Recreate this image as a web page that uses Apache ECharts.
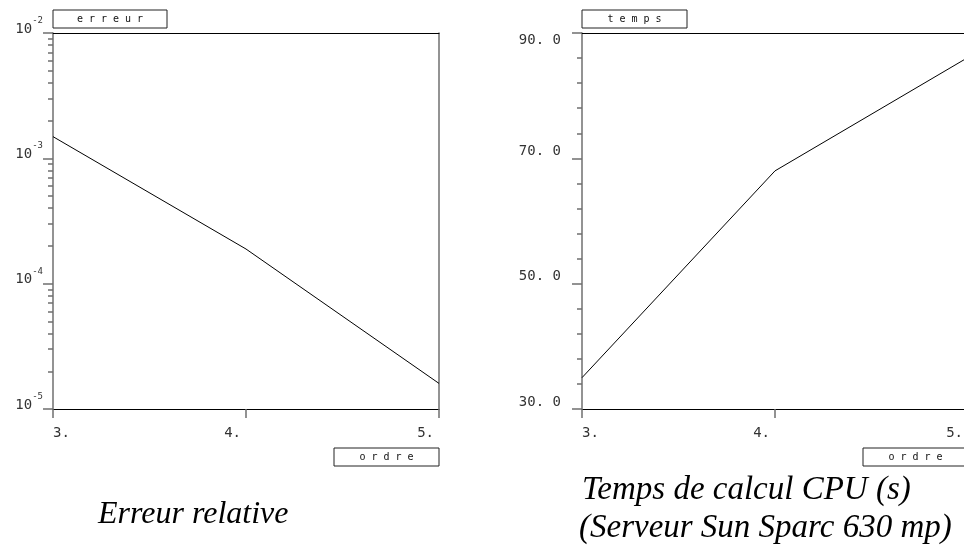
<!DOCTYPE html>
<html>
<head>
<meta charset="utf-8">
<script src="https://cdn.jsdelivr.net/npm/echarts@6/dist/echarts.min.js"></script>
<style>
  html, body { margin: 0; padding: 0; background: #fff; }
  #chart { width: 964px; height: 554px; }
</style>
</head>
<body>
<div id="chart"></div>
<script>
// Polynomial order on the horizontal axis of both panels
const orders = [3, 4, 5];
// Relative error for each order (log scale)
const relError = [1.49e-3, 1.89e-4, 1.60e-5];
// CPU time in seconds for each order
const cpuTime = [35.0, 68.0, 86.1];

// Decades shown on the error axis and the in-between minor tick multipliers
const errorDecades = [1e-5, 1e-4, 1e-3, 1e-2];
const minorMultipliers = [2, 3, 4, 5, 6, 7, 8, 9];
// CPU time axis range and label step
const timeMin = 30, timeMax = 90, timeStep = 20;

const errorMinorTicks = [];
errorDecades.slice(0, -1).forEach(d => minorMultipliers.forEach(m => errorMinorTicks.push(m * d)));

const AXIS_GRAY = '#6f6f6f';
const TICK_FONT = 'DejaVu Sans Mono';
const CAPTION_FONT = 'Liberation Serif';
const captionStyle = { fontFamily: CAPTION_FONT, fontStyle: 'italic', fontWeight: 'normal', fontSize: 33, color: '#000' };

function boxName(text, w) {
  return {
    name: '{box|' + text + '}',
    nameTextStyle: {
      rich: {
        box: {
          width: w, height: 18, align: 'center', verticalAlign: 'middle',
          borderColor: '#222', borderWidth: 1,
          fontFamily: TICK_FONT, fontSize: 10, color: '#111'
        }
      }
    }
  };
}

function bottomAxis(gridIndex, nameText) {
  const nb = boxName(nameText, 105);
  return {
    type: 'value', gridIndex, position: 'bottom',
    min: orders[0], max: orders[orders.length - 1], interval: 1,
    axisLine: { show: true, lineStyle: { color: '#000', width: 1 } },
    axisTick: { show: true, length: 9, inside: false, lineStyle: { color: AXIS_GRAY, width: 1.5 } },
    axisLabel: {
      show: true, margin: 17, align: 'right', alignMinLabel: 'left',
      padding: [0, 5, 0, 0],
      fontFamily: TICK_FONT, fontSize: 14, color: '#333',
      formatter: v => v + '.'
    },
    splitLine: { show: false },
    name: nb.name,
    nameLocation: 'end', nameGap: 0,
    nameTextStyle: Object.assign({ align: 'right', verticalAlign: 'top', padding: [39, 0, 0, 0] }, nb.nameTextStyle)
  };
}

function topAxis(gridIndex) {
  return {
    type: 'value', gridIndex, position: 'top',
    min: orders[0], max: orders[orders.length - 1],
    axisLine: { show: true, lineStyle: { color: '#000', width: 1 } },
    axisTick: { show: false }, axisLabel: { show: false }, splitLine: { show: false }
  };
}

const errName = boxName('e r r e u r', 114);
const timeName = boxName('t e m p s', 105);

const option = {
  animation: false,
  backgroundColor: '#fff',
  title: [
    { text: 'Erreur relative', left: 93, top: 494, textStyle: Object.assign({}, captionStyle, { fontSize: 32 }) },
    { text: 'Temps de calcul CPU (s)', left: 577, top: 469, textStyle: captionStyle },
    { text: '(Serveur Sun Sparc 630 mp)', left: 574, top: 507, textStyle: captionStyle }
  ],
  grid: [
    { left: 53, top: 33, width: 386, height: 376, containLabel: false, outerBoundsMode: 'none' },
    { left: 582, top: 33, width: 386, height: 376, containLabel: false, outerBoundsMode: 'none' }
  ],
  xAxis: [
    bottomAxis(0, 'o r d r e'),
    topAxis(0),
    bottomAxis(1, 'o r d r e'),
    topAxis(1)
  ],
  yAxis: [
    // error axis: decades with labels and long ticks
    {
      type: 'log', logBase: 10, gridIndex: 0, position: 'left',
      min: errorDecades[0], max: errorDecades[errorDecades.length - 1],
      axisLine: { show: true, lineStyle: { color: AXIS_GRAY, width: 1.5 } },
      axisTick: { show: true, length: 10, lineStyle: { color: AXIS_GRAY, width: 1.5 } },
      axisLabel: {
        show: true, margin: 10, verticalAlign: 'bottom',
        formatter: v => '{b|10}{s|' + Math.round(Math.log10(v)) + '}',
        rich: {
          b: { fontFamily: TICK_FONT, fontSize: 14, color: '#333', verticalAlign: 'bottom', lineHeight: 20, padding: [0, 0, -3, 0] },
          s: { fontFamily: TICK_FONT, fontSize: 9, color: '#333', verticalAlign: 'top', padding: [3, 0, 0, 0] }
        }
      },
      splitLine: { show: false },
      name: errName.name, nameLocation: 'end', nameGap: 5,
      nameTextStyle: Object.assign({ align: 'left', verticalAlign: 'bottom' }, errName.nameTextStyle)
    },
    // error axis: minor ticks at 2..9 of each decade
    {
      type: 'log', logBase: 10, gridIndex: 0, position: 'left',
      min: errorDecades[0], max: errorDecades[errorDecades.length - 1],
      axisLine: { show: false },
      axisTick: { show: true, length: 5, customValues: errorMinorTicks, lineStyle: { color: AXIS_GRAY, width: 1.5 } },
      axisLabel: { show: false },
      splitLine: { show: false }
    },
    // right border of the error panel
    {
      type: 'log', logBase: 10, gridIndex: 0, position: 'right',
      min: errorDecades[0], max: errorDecades[errorDecades.length - 1],
      axisLine: { show: true, lineStyle: { color: AXIS_GRAY, width: 1.5 } },
      axisTick: { show: false }, axisLabel: { show: false }, splitLine: { show: false }
    },
    // CPU time axis
    {
      type: 'value', gridIndex: 1, position: 'left',
      min: timeMin, max: timeMax, interval: timeStep,
      axisLine: { show: true, lineStyle: { color: AXIS_GRAY, width: 1.5 } },
      axisTick: { show: true, length: 10, lineStyle: { color: AXIS_GRAY, width: 1.5 } },
      minorTick: { show: true, splitNumber: 5, length: 5, lineStyle: { color: AXIS_GRAY, width: 1.5 } },
      axisLabel: {
        show: true, margin: 21, verticalAlign: 'bottom', verticalAlignMaxLabel: 'top',
        fontFamily: TICK_FONT, fontSize: 14, color: '#333',
        formatter: v => v.toFixed(1).replace('.', '. ')
      },
      splitLine: { show: false },
      name: timeName.name, nameLocation: 'end', nameGap: 5,
      nameTextStyle: Object.assign({ align: 'left', verticalAlign: 'bottom' }, timeName.nameTextStyle)
    }
  ],
  series: [
    {
      type: 'line', xAxisIndex: 0, yAxisIndex: 0,
      data: orders.map((o, i) => [o, relError[i]]),
      showSymbol: false, symbol: 'none',
      lineStyle: { color: '#000', width: 1 }
    },
    {
      type: 'line', xAxisIndex: 2, yAxisIndex: 3,
      data: orders.map((o, i) => [o, cpuTime[i]]),
      showSymbol: false, symbol: 'none',
      lineStyle: { color: '#000', width: 1 }
    }
  ]
};

const chart = echarts.init(document.getElementById('chart'), null, { renderer: 'canvas' });
chart.setOption(option);
</script>
</body>
</html>
